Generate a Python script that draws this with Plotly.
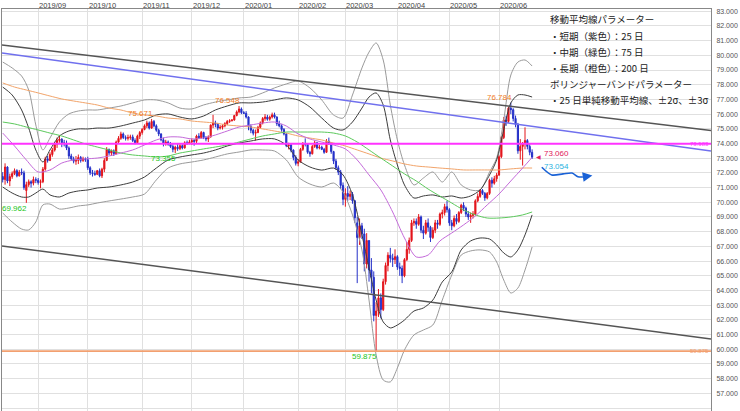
import pandas as pd
import plotly.graph_objects as go

# daily candles, 2019-08-12 .. 2020-06-19 (weekdays)
dates = pd.bdate_range("2019-08-12", "2020-06-19")

opens = [
    71.75, 71.55, 72.40, 71.45, 71.75, 71.95, 72.15, 71.80, 72.05, 72.00, 70.80, 71.20, 71.40, 71.30, 71.55,
    71.50, 71.35, 71.40, 72.25, 72.95, 72.85, 73.25, 73.55, 73.95, 74.20, 74.30, 74.05, 74.00, 73.70, 73.15, 72.95, 72.80, 72.85, 73.05, 72.85, 72.95,
    72.90, 72.35, 72.00, 71.95, 71.90, 72.15, 71.80, 72.25, 72.85, 73.60, 73.35, 73.50, 73.30, 74.10, 74.35, 74.65, 74.40, 74.35, 74.40, 74.45, 74.20, 74.05, 74.50,
    74.75, 74.95, 75.20, 75.40, 75.05, 75.50, 75.20, 74.90, 74.65, 74.25, 74.00, 74.10, 73.95, 73.80, 73.60, 73.75, 73.65, 73.85, 73.70, 74.05, 74.00,
    74.10, 74.20, 74.15, 74.50, 74.40, 74.75, 74.40, 74.30, 74.45, 75.25, 75.40, 75.30, 75.05, 75.10, 75.20, 75.35, 75.50, 75.55, 75.60, 75.90, 76.15, 76.35,
    76.10, 76.05, 75.80, 75.15, 74.90, 74.70, 74.75, 75.10, 75.40, 75.70, 75.80, 75.65, 75.80, 75.95, 75.80, 75.35, 75.20, 74.95, 74.65, 73.85, 73.90, 73.55, 73.05,
    72.65, 72.75, 73.60, 74.00, 73.95, 73.40, 73.30, 73.80, 74.05, 73.70, 73.75, 73.60, 73.40, 74.15, 74.05, 73.45, 72.80, 72.35, 72.05, 71.15,
    70.20, 70.60, 70.40, 70.55, 70.10, 68.60, 67.60, 68.40, 67.85, 65.80, 67.40, 65.40, 64.90, 62.30, 62.60, 63.50, 62.70, 64.60, 65.70, 66.40, 66.20, 66.10,
    66.30, 65.60, 65.50, 65.00, 66.10, 66.80, 67.40, 68.60, 68.70, 68.50, 69.00, 68.10, 67.90, 68.60, 68.30, 67.60, 68.10, 68.60, 68.50, 69.20, 69.30, 69.70,
    69.50, 68.60, 68.40, 68.90, 68.70, 69.30, 69.80, 69.60, 69.20, 69.00, 69.10, 69.20, 70.10, 70.40, 70.80, 70.60, 70.30, 70.60, 71.50, 71.30, 71.60,
    71.85, 73.10, 74.40, 75.60, 75.50, 76.40, 76.30, 75.70, 75.30, 73.50, 73.80, 74.00, 74.20, 73.80, 73.40,
]
highs = [
    72.05, 72.65, 72.45, 71.95, 72.10, 72.30, 72.25, 72.20, 72.30, 72.15, 71.40, 71.55, 71.50, 71.75, 71.70,
    71.65, 71.55, 72.40, 73.10, 73.15, 73.40, 73.70, 74.10, 74.40, 74.55, 74.35, 74.25, 74.20, 73.80, 73.30, 73.10, 73.15, 73.25, 73.15, 73.10, 73.05,
    73.10, 72.45, 72.20, 72.15, 72.20, 72.30, 72.35, 73.00, 73.75, 73.65, 73.60, 73.60, 74.20, 74.50, 74.80, 74.75, 74.55, 74.60, 74.60, 74.60, 74.35, 74.60, 74.85,
    75.05, 75.30, 75.55, 75.50, 75.671, 75.60, 75.30, 75.00, 74.70, 74.40, 74.25, 74.20, 74.10, 73.95, 73.85, 74.00, 73.95, 73.95, 74.15, 74.20, 74.25,
    74.35, 74.30, 74.60, 74.70, 74.85, 74.80, 74.50, 74.55, 75.30, 75.95, 75.55, 75.40, 75.25, 75.30, 75.45, 75.60, 75.65, 75.65, 75.95, 76.25, 76.548, 76.45,
    76.20, 76.20, 75.85, 75.30, 75.00, 74.95, 75.20, 75.50, 75.80, 76.00, 75.95, 75.90, 76.10, 76.10, 75.85, 75.55, 75.30, 75.05, 74.70, 74.05, 74.00, 73.60, 73.20,
    72.95, 73.70, 74.10, 74.35, 74.00, 73.50, 73.90, 74.20, 74.10, 73.90, 73.85, 73.70, 74.30, 74.40, 74.10, 73.50, 72.95, 72.50, 72.20, 71.35,
    70.95, 71.10, 70.80, 70.70, 70.15, 69.00, 68.90, 68.60, 68.20, 67.90, 67.40, 66.20, 65.30, 63.20, 64.10, 63.80, 64.80, 65.90, 66.60, 66.90, 66.50, 66.80,
    66.40, 65.90, 65.70, 66.20, 67.30, 67.60, 68.80, 68.90, 68.90, 69.20, 69.10, 68.40, 68.80, 68.90, 68.40, 68.30, 68.80, 68.80, 69.30, 69.50, 69.90, 70.10,
    69.60, 68.80, 69.10, 69.20, 69.40, 69.90, 70.00, 69.70, 69.40, 69.30, 69.40, 70.20, 70.60, 70.90, 70.90, 70.70, 70.70, 71.60, 71.70, 71.80, 72.00,
    73.20, 74.50, 75.80, 75.90, 76.50, 76.784, 76.40, 75.90, 75.40, 74.30, 74.10, 75.10, 74.30, 73.95, 73.60,
]
lows = [
    71.35, 71.20, 71.30, 71.10, 71.60, 71.85, 71.70, 71.75, 71.85, 70.85, 69.962, 71.05, 71.00, 71.15, 71.30,
    71.20, 70.95, 71.30, 72.15, 72.70, 72.80, 73.10, 73.45, 73.70, 74.05, 73.75, 73.80, 73.55, 72.95, 72.85, 72.65, 72.55, 72.60, 72.70, 72.75, 72.75,
    72.20, 71.85, 71.75, 71.80, 71.85, 71.70, 71.65, 72.05, 72.80, 73.20, 73.15, 73.15, 73.25, 74.00, 74.25, 74.30, 74.20, 74.20, 74.25, 74.10, 73.95, 74.00, 74.30,
    74.60, 74.90, 75.05, 74.95, 75.00, 75.10, 74.80, 74.50, 74.15, 73.80, 73.85, 73.85, 73.70, 73.40, 73.355, 73.50, 73.55, 73.60, 73.65, 73.90, 73.95,
    73.90, 73.85, 74.00, 74.30, 74.35, 74.30, 74.15, 74.10, 74.40, 75.05, 75.10, 74.90, 74.95, 74.95, 75.10, 75.25, 75.40, 75.50, 75.55, 75.85, 76.05, 76.00,
    76.00, 75.70, 74.90, 74.70, 74.55, 74.20, 74.70, 75.00, 75.30, 75.55, 75.55, 75.55, 75.70, 75.70, 75.20, 75.10, 74.80, 74.55, 73.75, 73.60, 73.40, 72.85, 72.50,
    72.45, 72.70, 73.50, 73.80, 73.30, 73.10, 73.25, 73.70, 73.60, 73.60, 73.55, 73.30, 73.35, 73.90, 73.30, 72.60, 72.20, 71.85, 70.90, 69.80,
    69.70, 70.10, 70.15, 69.90, 68.60, 64.50, 67.10, 67.50, 65.30, 65.50, 64.60, 63.80, 61.90, 59.875, 62.20, 62.10, 62.60, 64.40, 65.30, 65.90, 65.60, 65.80,
    65.40, 65.00, 64.50, 64.90, 66.00, 66.50, 67.30, 68.40, 68.20, 68.40, 67.90, 67.50, 67.80, 68.00, 67.30, 67.50, 67.90, 68.20, 68.40, 68.90, 69.10, 69.30,
    68.40, 68.10, 68.30, 68.50, 68.60, 69.20, 69.40, 69.00, 68.80, 68.60, 68.90, 69.10, 70.00, 70.30, 70.50, 70.10, 70.20, 70.50, 71.00, 71.20, 71.40,
    71.80, 73.00, 74.30, 75.20, 75.40, 76.00, 75.50, 75.10, 73.30, 72.90, 72.50, 73.60, 73.60, 73.20, 72.95,
]
closes = [
    71.55, 72.40, 71.45, 71.75, 71.95, 72.15, 71.80, 72.05, 72.00, 71.00, 71.20, 71.40, 71.30, 71.55, 71.50,
    71.35, 71.40, 72.25, 72.95, 72.85, 73.25, 73.55, 73.95, 74.20, 74.30, 74.05, 74.00, 73.70, 73.15, 72.95, 72.80, 72.85, 73.05, 72.85, 72.95, 72.90,
    72.35, 72.00, 71.95, 71.90, 72.15, 71.80, 72.25, 72.85, 73.60, 73.35, 73.50, 73.30, 74.10, 74.35, 74.65, 74.40, 74.35, 74.40, 74.45, 74.20, 74.05, 74.50, 74.75,
    74.95, 75.20, 75.40, 75.05, 75.50, 75.20, 74.90, 74.65, 74.25, 74.00, 74.10, 73.95, 73.80, 73.60, 73.75, 73.65, 73.85, 73.70, 74.05, 74.00, 74.10,
    74.20, 74.15, 74.50, 74.40, 74.75, 74.40, 74.30, 74.45, 75.25, 75.40, 75.30, 75.05, 75.10, 75.20, 75.35, 75.50, 75.55, 75.60, 75.90, 76.15, 76.35, 76.10,
    76.05, 75.80, 75.15, 74.90, 74.70, 74.75, 75.10, 75.40, 75.70, 75.80, 75.65, 75.80, 75.95, 75.80, 75.35, 75.20, 74.95, 74.65, 73.85, 73.90, 73.55, 73.05, 72.65,
    72.75, 73.60, 74.00, 73.95, 73.40, 73.30, 73.80, 74.05, 73.70, 73.75, 73.60, 73.40, 74.15, 74.05, 73.45, 72.80, 72.35, 72.05, 71.15, 70.20,
    70.60, 70.40, 70.55, 70.10, 68.95, 67.60, 68.40, 67.85, 65.80, 67.40, 65.40, 64.90, 62.30, 62.60, 63.50, 62.70, 64.60, 65.70, 66.40, 66.20, 66.10, 66.30,
    65.60, 65.50, 65.00, 66.10, 66.80, 67.40, 68.60, 68.70, 68.50, 69.00, 68.10, 67.90, 68.60, 68.30, 67.60, 68.10, 68.60, 68.50, 69.20, 69.30, 69.70, 69.50,
    68.60, 68.40, 68.90, 68.70, 69.30, 69.80, 69.60, 69.20, 69.00, 69.10, 69.20, 70.10, 70.40, 70.80, 70.60, 70.30, 70.60, 71.50, 71.30, 71.60, 71.85,
    73.10, 74.40, 75.60, 75.50, 76.40, 76.30, 75.70, 75.30, 73.50, 73.80, 74.00, 74.20, 73.80, 73.40, 73.06,
]

# moving averages, every 5 trading days (plus the last day)
ma_days = list(range(0, 221, 5)) + [224]
ma25 = [74.71, 73.83, 72.88, 72.06, 72.20, 72.67, 72.88, 72.95, 73.01, 73.15, 73.35, 73.56, 73.90,
        74.24, 74.44, 74.44, 74.31, 74.37, 74.58, 74.85, 75.12, 75.26, 75.39, 75.46, 75.19, 74.65,
        74.31, 74.10, 73.90, 73.63, 72.88, 71.86, 70.84, 69.34, 67.57, 66.28, 66.41, 67.37, 67.91,
        68.46, 69.07, 69.82, 70.56, 71.45, 72.33, 73.054]
ma75 = [75.46, 75.33, 75.12, 74.92, 74.71, 74.51, 74.24, 73.97, 73.76, 73.56, 73.35, 73.22, 73.15,
        73.08, 73.15, 73.35, 73.49, 73.63, 73.76, 73.90, 74.10, 74.31, 74.51, 74.65, 74.78, 74.78,
        74.78, 74.78, 74.71, 74.51, 74.10, 73.56, 73.01, 72.47, 71.93, 71.45, 70.90, 70.42, 69.95,
        69.48, 69.14, 68.93, 68.93, 69.00, 69.14, 69.34]
ma200 = [78.12, 77.84, 77.64, 77.44, 77.23, 77.03, 76.89, 76.76, 76.62, 76.41, 76.28, 76.07, 75.94,
         75.87, 75.73, 75.67, 75.53, 75.46, 75.39, 75.26, 75.19, 75.12, 74.99, 74.85, 74.71, 74.51,
         74.37, 74.24, 74.03, 73.83, 73.56, 73.29, 73.01, 72.81, 72.61, 72.47, 72.40, 72.33, 72.27,
         72.20, 72.20, 72.20, 72.20, 72.27, 72.33, 72.33]

# Bollinger bands (25 day)
bb_days = [0, 4, 8, 11, 14, 17, 20, 24, 28, 32, 36, 40, 45, 50, 55, 60, 65, 70, 75, 80, 85, 90, 95,
           100, 105, 110, 115, 120, 125, 130, 135, 140, 144, 148, 152, 155, 158, 161, 164, 167, 170,
           174, 178, 182, 186, 190, 194, 198, 202, 206, 209, 212, 215, 218, 221, 224]
bb_up3 = [79.54, 79.14, 78.59, 77.64, 75.26, 73.56, 74.37, 75.46, 76.01, 76.21, 76.28, 76.28, 76.41,
          76.55, 76.76, 76.96, 76.96, 76.76, 76.41, 76.35, 76.62, 76.82, 76.96, 77.10, 77.16, 77.44,
          77.78, 78.05, 78.25, 77.78, 76.96, 75.94, 75.73, 77.30, 79.14, 80.22, 80.84, 79.68, 76.62,
          74.24, 72.54, 71.18, 71.65, 72.06, 71.38, 72.06, 71.18, 70.84, 70.84, 72.06, 73.01, 75.60,
          78.66, 79.54, 79.68, 79.27]
bb_up2 = [77.84, 77.30, 76.28, 75.05, 73.56, 72.74, 73.56, 74.51, 74.85, 74.99, 74.99, 75.05, 75.05,
          75.19, 75.39, 75.60, 75.94, 76.01, 75.80, 75.67, 75.87, 76.28, 76.55, 76.76, 76.76, 76.82,
          76.96, 77.10, 76.96, 76.48, 75.73, 75.05, 74.92, 75.46, 76.41, 77.16, 77.44, 76.62, 74.24,
          72.54, 71.18, 70.29, 70.43, 70.50, 70.36, 70.43, 70.29, 70.43, 70.84, 71.86, 72.88, 74.92,
          76.76, 77.30, 77.30, 77.16]
bb_dn2 = [71.04, 70.63, 70.36, 70.36, 70.63, 70.90, 70.50, 70.36, 70.63, 70.77, 70.84, 70.97, 71.04,
          71.18, 71.38, 71.72, 72.33, 72.88, 73.08, 73.22, 73.35, 73.56, 73.83, 74.03, 74.17, 74.31,
          74.31, 73.90, 72.88, 72.40, 72.19, 72.33, 71.86, 70.50, 67.78, 65.53, 63.35, 61.86, 61.45,
          61.65, 61.99, 62.60, 62.81, 63.35, 64.58, 65.26, 66.76, 67.37, 67.57, 67.50, 67.10, 66.55,
          66.28, 66.76, 67.78, 69.14]
bb_dn3 = [69.27, 68.66, 68.18, 68.12, 68.66, 69.82, 69.88, 69.54, 69.61, 69.75, 69.82, 69.95, 70.09,
          70.22, 70.36, 70.56, 71.52, 72.33, 72.61, 72.74, 72.88, 73.08, 73.29, 73.42, 73.56, 73.56,
          73.49, 72.88, 71.72, 71.24, 71.04, 71.31, 70.70, 69.14, 66.76, 63.35, 59.61, 57.91, 57.78,
          58.73, 59.95, 60.97, 61.31, 61.65, 63.35, 65.05, 66.41, 66.69, 66.76, 66.62, 65.94, 64.71,
          63.83, 64.17, 65.39, 66.96]

# drawn lines: value at the left and right edge of the chart
x_span = [-0.3, 299.7]
upper_channel = [80.70, 74.88]
lower_channel = [67.03, 60.70]
blue_line = [80.16, 73.49]
resist_level = 73.983
support_level = 59.875

peak_labels = [(63, 75.671), (100, 76.548), (215, 76.784)]
trough_labels = [(10, 69.962), (73, 73.355), (158, 59.875)]

# hand drawn forecast arrow
arrow_days = [228.1, 232.3, 237.1, 240.9, 243.4, 245.5]
arrow_vals = [72.38, 71.86, 71.93, 71.99, 71.74, 71.72]
arrow_tip = (249.5, 71.82)

notes = [
    "移動平均線パラメーター",
    "・短期（紫色）：25 日",
    "・中期（緑色）：75 日",
    "・長期（橙色）：200 日",
    "ボリンジャーバンドパラメーター",
    "・25 日単純移動平均線、±2σ、±3σ",
]

x = list(range(len(dates)))
month_start = [i for i in x[1:] if dates[i].month != dates[i - 1].month]
month_text = [dates[i].strftime("%Y/%m") for i in month_start]

fig = go.Figure()


def add_line(xs, ys, color, width=1.0, shape="spline"):
    fig.add_trace(go.Scatter(x=xs, y=ys, mode="lines", hoverinfo="skip",
                             line=dict(color=color, width=width, shape=shape, smoothing=0.8)))


# bands
add_line(bb_days, bb_up3, "#9a9a9a")
add_line(bb_days, bb_dn3, "#9a9a9a")
add_line(bb_days, bb_up2, "#3c3c3c")
add_line(bb_days, bb_dn2, "#3c3c3c")

# moving averages
add_line(ma_days, ma200, "#f2a46a")
add_line(ma_days, ma75, "#5cc95c")
add_line(ma_days, ma25, "#c46ada")

# trend lines and levels
add_line(x_span, upper_channel, "#555555", 1.5, "linear")
add_line(x_span, lower_channel, "#555555", 1.5, "linear")
add_line(x_span, blue_line, "#7070ee", 1.5, "linear")
add_line(x_span, [resist_level] * 2, "#ff33ff", 2, "linear")
add_line(x_span, [support_level] * 2, "#f2a070", 1.8, "linear")

fig.add_trace(go.Candlestick(
    x=x, open=opens, high=highs, low=lows, close=closes,
    increasing=dict(line=dict(color="#e3141b", width=1), fillcolor="#e3141b"),
    decreasing=dict(line=dict(color="#2430c8", width=1), fillcolor="#2430c8"),
    whiskerwidth=0, hoverinfo="skip",
))

# forecast arrow
add_line(arrow_days, arrow_vals, "#1a62d6", 1.6)
fig.add_annotation(x=arrow_tip[0], y=arrow_tip[1], ax=arrow_days[-1], ay=arrow_vals[-1],
                   xref="x", yref="y", axref="x", ayref="y", text="", showarrow=True,
                   arrowhead=2, arrowsize=1.2, arrowwidth=1.6, arrowcolor="#1a62d6")

for day, val in peak_labels:
    fig.add_annotation(x=day, y=val, text=f"{val:.3f}", showarrow=False,
                       xanchor="right", yanchor="bottom", xshift=3, yshift=-1,
                       font=dict(size=8, color="#f07a1c"))
for day, val in trough_labels:
    fig.add_annotation(x=day, y=val, text=f"{val:.3f}", showarrow=False,
                       xanchor="right", yanchor="top", xshift=3, yshift=1,
                       font=dict(size=8, color="#22c522"))

# last price tags
fig.add_annotation(x=x[-1], y=closes[-1], text="◀", showarrow=False, xshift=6,
                   font=dict(size=6, color="#e0205a"))
fig.add_annotation(x=x[-1], y=closes[-1], text=f"{closes[-1]:.3f}", showarrow=False,
                   xanchor="left", yanchor="bottom", xshift=10, yshift=-3,
                   font=dict(size=8, color="#e0205a"))
fig.add_annotation(x=x[-1], y=ma25[-1], text=f"{ma25[-1]:.3f}", showarrow=False,
                   xanchor="left", yanchor="top", xshift=10, yshift=-3,
                   font=dict(size=8, color="#1fb2e0"))

# level tags at right edge
fig.add_annotation(xref="paper", x=1, y=resist_level, text=f"{resist_level:.3f}", showarrow=False,
                   xanchor="right", font=dict(size=6, color="#ff33ff"))
fig.add_annotation(xref="paper", x=1, y=support_level, text=f"{support_level:.3f}", showarrow=False,
                   xanchor="right", font=dict(size=6, color="#f2a070"))

# month labels sit just right of each month's gridline, above the frame
for day, label in zip(month_start, month_text):
    fig.add_annotation(x=day, y=1, yref="paper", text=label, showarrow=False,
                       xanchor="left", yanchor="middle", xshift=-1, yshift=4,
                       font=dict(size=7.5, color="#444444"))

for k, line in enumerate(notes):
    fig.add_annotation(xref="paper", yref="paper", x=0.77, y=0.974 - 0.04 * k, text=line,
                       showarrow=False, xanchor="left", yanchor="middle",
                       font=dict(family="Noto Sans CJK JP", size=9.5, color="#222222"))

fig.update_layout(
    width=740, height=411,
    margin=dict(l=2, r=29, t=9, b=0, autoexpand=False),
    paper_bgcolor="white", plot_bgcolor="white",
    showlegend=False, hovermode=False,
    font=dict(family="Liberation Sans, Arial, sans-serif", size=8, color="#444444"),
    xaxis=dict(range=x_span, side="top", tickvals=month_start, showticklabels=False,
               showgrid=True, gridcolor="#e0e0e0", zeroline=False, showline=True,
               linecolor="#888888", ticks="", automargin=False,
               rangeslider=dict(visible=False)),
    yaxis=dict(range=[55.8, 83.15], side="right", dtick=1, tick0=0, tickformat=".3f",
               showgrid=True, gridcolor="#e0e0e0", zeroline=False, showline=True, mirror=True,
               linecolor="#888888", ticks="", ticklabelstandoff=3, automargin=False,
               tickfont=dict(size=7, color="#555555")),
)

# the page body has a default 8px margin; drop it so the figure sits at the corner
fig.write_html("out.html", config={"displayModeBar": False},
               post_script="document.body.style.margin='0';")
